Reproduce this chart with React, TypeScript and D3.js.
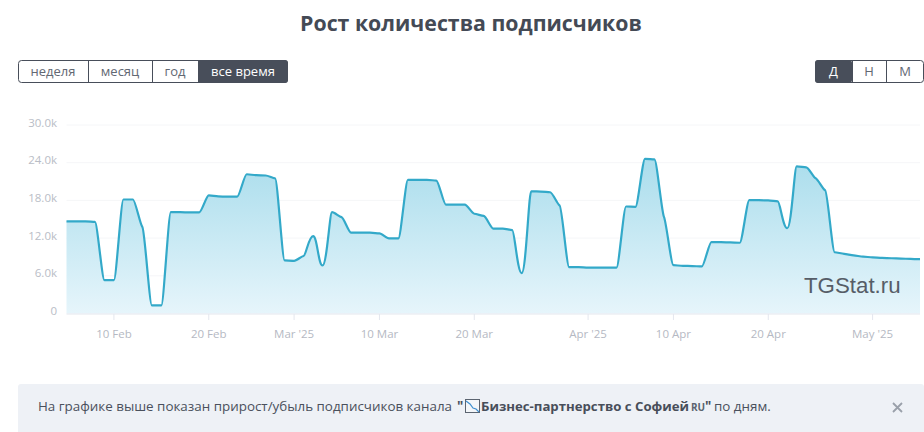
import React from "react";
import * as d3 from "d3";

const W = 924, H = 432;
const startDate = new Date(2025, 1, 5);
const subscribersK = [
  14.67, 14.67, 14.67, 14.57, 5.31, 5.31, 18.14, 18.14, 13.77, 1.28, 1.28, 16.13, 16.13, 16.08, 16.08, 18.79, 18.64,
  18.59, 18.59, 22.16, 22.01, 21.96, 21.51, 8.44, 8.39, 9.15, 12.31, 7.64, 16.13, 15.33, 12.86, 12.86, 12.86, 12.76,
  11.96, 11.96, 21.26, 21.26, 21.26, 21.16, 17.34, 17.34, 17.34, 15.88, 15.53, 13.52, 13.52, 13.27, 6.43, 19.45, 19.4,
  19.3, 17.19, 7.39, 7.39, 7.29, 7.29, 7.29, 7.29, 17.03, 16.98, 24.62, 24.52, 15.38, 7.69, 7.59, 7.54, 7.49, 11.36,
  11.36, 11.31, 11.26, 18.04, 18.04, 17.99, 17.84, 13.57, 23.42, 23.27, 21.51, 19.6, 9.75, 9.5, 9.25, 9.05, 8.94, 8.84,
  8.79, 8.74, 8.69, 8.64,
];
const yTicks = [0, 6000, 12000, 18000, 24000, 30000];
const yLabels = ["0", "6.0k", "12.0k", "18.0k", "24.0k", "30.0k"];
const xTickDates = [
  new Date(2025, 1, 10), new Date(2025, 1, 20), new Date(2025, 2, 1), new Date(2025, 2, 10), new Date(2025, 2, 20),
  new Date(2025, 3, 1), new Date(2025, 3, 10), new Date(2025, 3, 20), new Date(2025, 4, 1),
];
const xTickLabels = ["10 Feb", "20 Feb", "Mar '25", "10 Mar", "20 Mar", "Apr '25", "10 Apr", "20 Apr", "May '25"];
const rangeButtons = ["неделя", "месяц", "год", "все время"];
const rangeEdges = [18, 88, 152, 198, 288];
const unitButtons = ["Д", "Н", "М"];
const unitEdges = [815, 852, 886, 924];

const DARK = "#484e5a";
const FONT = "'Open Sans', sans-serif";

// Tight spline: small tangents on slopes (visible kinks), flat tangents at extrema, rounder isolated peaks.
function tightSpline(context: any) {
  let pts: [number, number][] = [];
  return {
    areaStart() {},
    areaEnd() {},
    lineStart() { pts = []; },
    point(px: number, py: number) { pts.push([+px, +py]); },
    lineEnd() {
      const n = pts.length;
      const slope: number[] = [];
      const ext: number[] = [];
      pts.forEach(([px, py], i) => {
        const last = pts[i - 1], next = pts[i + 1];
        if (!last || !next) { slope.push(0); ext.push(0.3); return; }
        const s1 = (py - last[1]) / (px - last[0]);
        const s2 = (next[1] - py) / (next[0] - px);
        if (s1 * s2 <= 0) {
          slope.push(0);
          ext.push(Math.min(Math.abs(py - last[1]), Math.abs(next[1] - py)) > 15 ? 0.45 : 0.25);
        } else {
          slope.push(Math.sign(s1) * Math.min(Math.abs(s1), Math.abs(s2)) * 0.4);
          ext.push(0.25);
        }
      });
      context.moveTo(pts[0][0], pts[0][1]);
      for (let i = 1; i < n; i++) {
        const [ax, ay] = pts[i - 1];
        const [bx, by] = pts[i];
        const dx = bx - ax;
        const e1 = ext[i - 1] * dx, e2 = ext[i] * dx;
        context.bezierCurveTo(ax + e1, ay + slope[i - 1] * e1, bx - e2, by - slope[i] * e2, bx, by);
      }
    },
  };
}

const data = subscribersK.map((v, i) => ({ date: d3.timeDay.offset(startDate, i), v: v * 1000 }));
const x = d3.scaleTime().domain([startDate, d3.timeDay.offset(startDate, 90)]).range([66.5, 920]);
const y = d3.scaleLinear().domain([0, 30000]).range([313.5, 125]);
const line = d3.line<{ date: Date; v: number }>().x((d) => x(d.date)).y((d) => y(d.v)).curve(tightSpline as any);
const linePath = line(data) ?? "";
const areaPath = `${linePath}L${x(data[data.length - 1].date)},${y(0)}L${x(data[0].date)},${y(0)}Z`;

function ButtonGroup({ labels, edges, active }: { labels: string[]; edges: number[]; active: number }) {
  const top = 60.5, h = 22;
  const left = edges[0] + 0.5, right = edges[edges.length - 1] - 0.5;
  return (
    <g>
      {labels.map((l, i) => {
        if (i !== active) return null;
        const a = edges[i], b = edges[i + 1];
        return <rect key="bg" x={a} y={top - 0.5} width={b - a} height={h + 1} rx={3} fill={DARK} />;
      })}
      <rect x={left} y={top} width={right - left} height={h} rx={3} fill="none" stroke={DARK} />
      {edges.slice(1, -1).map((e) => (
        <line key={e} x1={e + 0.5} x2={e + 0.5} y1={top} y2={top + h} stroke={DARK} />
      ))}
      {labels.map((l, i) => (
        <text key={l} x={(edges[i] + edges[i + 1]) / 2} y={76} textAnchor="middle" fontSize={13}
          fill={i === active ? "#fff" : "#626873"} fontWeight={i === active ? 500 : 400}>{l}</text>
      ))}
    </g>
  );
}

export default function App() {
  return (
    <svg width={W} height={H} viewBox={`0 0 ${W} ${H}`} fontFamily={FONT}
      style={{ position: "absolute", left: 0, top: 0, display: "block", background: "#fff" }}>
      <defs>
        <linearGradient id="fillGrad" gradientUnits="userSpaceOnUse" x1="0" x2="0" y1={y(24600)} y2={y(0)}>
          <stop offset="0" stopColor="#aaddec" />
          <stop offset="1" stopColor="#e6f5fb" />
        </linearGradient>
      </defs>
      <text x={471} y={31} textAnchor="middle" fontSize={21.3} fontWeight={700} fill="#444a55">Рост количества подписчиков</text>
      <ButtonGroup labels={rangeButtons} edges={rangeEdges} active={3} />
      <ButtonGroup labels={unitButtons} edges={unitEdges} active={0} />

      {yTicks.slice(1).map((t) => (
        <line key={t} x1={66.5} x2={920} y1={y(t)} y2={y(t)} stroke="#f5f6f8" />
      ))}
      {yTicks.map((t, i) => (
        <text key={t} x={57} y={y(t) + 1.5} textAnchor="end" fontSize={11.5} fill="#b9bdc6">{yLabels[i]}</text>
      ))}
      <path d={areaPath} fill="url(#fillGrad)" />
      <path d={linePath} fill="none" stroke="#33a9c9" strokeWidth={2.2} />
      <line x1={66.5} x2={920} y1={314} y2={314} stroke="#e4e7ee" />
      {xTickDates.map((d, i) => (
        <g key={xTickLabels[i]}>
          <line x1={x(d)} x2={x(d)} y1={314} y2={320} stroke="#e4e7ee" />
          <text x={x(d)} y={338} textAnchor="middle" fontSize={11.5} fill="#b5b9c3">{xTickLabels[i]}</text>
        </g>
      ))}
      <text x={804} y={293} fontFamily="'Liberation Sans', sans-serif" fontSize={22.3} fill="#565d67">TGStat.ru</text>

      <rect x={18} y={384} width={906} height={50} rx={3} fill="#eef1f6" />
      <text x={38} y={411} fontSize={13.4} fill="#4a505c">
        На графике выше показан прирост/убыль подписчиков канала
      </text>
      <text x={457} y={411} fontSize={13.4} fontWeight={700} fill="#484e5a">"</text>
      <rect x={465.5} y={399.5} width={14} height={13} fill="#f3f6f9" stroke="#5b6470" strokeWidth={1} />
      <polyline points="466,401 470,404 473,408 476,409 479,412" fill="none" stroke="#3f8fcf" strokeWidth={1.2} />
      <text x={481} y={411} fontSize={13.2} fontWeight={700} fill="#484e5a">Бизнес-партнерство с Софией</text>
      <text x={691} y={411} fontSize={10} fontWeight={700} fill="#5b6470">RU</text>
      <text x={705} y={411} fontSize={13.4} fontWeight={700} fill="#484e5a">"</text>
      <text x={714} y={411} fontSize={13.4} fill="#4a505c">по дням.</text>
      <path d="M893,403 L902,412 M902,403 L893,412" stroke="#9aa0aa" strokeWidth={1.8} fill="none" />
    </svg>
  );
}
